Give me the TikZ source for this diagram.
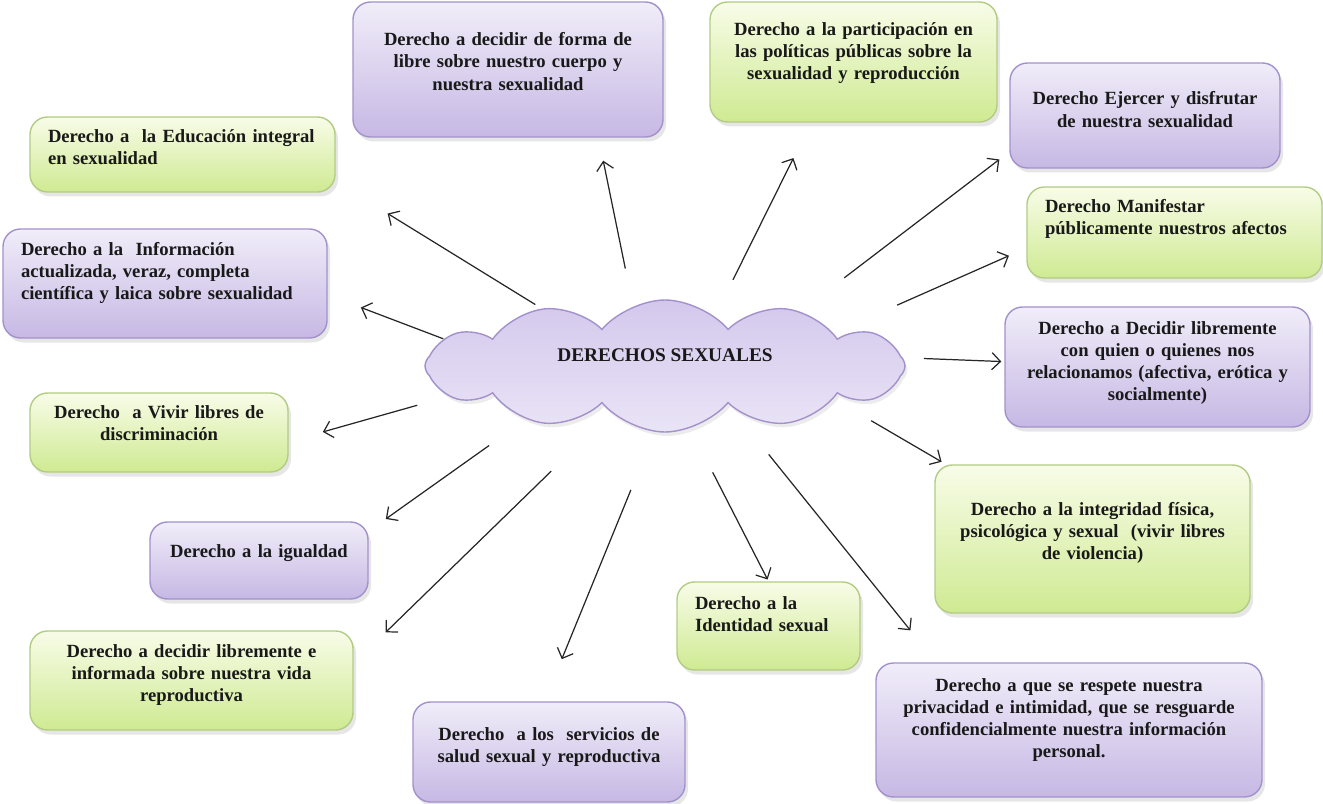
\documentclass[tikz,border=0pt]{standalone}
\usepackage{fontspec}
\setmainfont{Liberation Serif}
\usetikzlibrary{shapes.symbols,shadows,arrows.meta}
\definecolor{lilatop}{HTML}{F1EDF9}
\definecolor{lilabot}{HTML}{C6B8E4}
\definecolor{lilaline}{HTML}{A391CC}
\definecolor{verdetop}{HTML}{F8FCE8}
\definecolor{verdebot}{HTML}{CFEA92}
\definecolor{verdeline}{HTML}{B2CC84}
\definecolor{nubetop}{HTML}{D3C8EC}
\definecolor{nubebot}{HTML}{EAE4F7}
\tikzset{lift/.style={execute at end node={\par\kern#1}}}

\begin{document}
\begin{tikzpicture}
\tikzstyle{caja}=[rectangle, rounded corners=10pt, line width=0.8pt,
inner xsep=0.36cm, inner ysep=0pt, text=black!90,
font=\bfseries\fontsize{10.6}{12.6}\selectfont,
drop shadow={shadow xshift=0.6mm, shadow yshift=-0.9mm, opacity=0.2}]
\tikzstyle{lila}=[caja, draw=lilaline, top color=lilatop, bottom color=lilabot]
\tikzstyle{verde}=[caja, draw=verdeline, top color=verdetop, bottom color=verdebot]
\tikzstyle{flecha}=[-{Straight Barb[length=1.7mm,width=3.4mm]}, line width=0.7pt, black!85]

\useasboundingbox (0,0) rectangle (26.46,-16.08);

\node[cloud, cloud puffs=12, cloud puff arc=100, aspect=3.6,
minimum width=9.6cm, minimum height=2.64cm, inner sep=0pt,
draw=lilaline, line width=0.8pt, top color=nubetop, bottom color=nubebot,
drop shadow={shadow xshift=0.5mm, shadow yshift=-0.8mm, opacity=0.15},
text depth=0.44cm, text=black!90, font=\bfseries\fontsize{11}{13}\selectfont]
at (13.30,-7.32) (nube) {DERECHOS SEXUALES};

\node[verde, align=left, text width=5.38cm, minimum height=1.50cm, lift=0.28cm] at (3.65,-3.09) (edu)
{Derecho a~ la Educación integral\\ en sexualidad};
\node[lila, align=left, text width=5.76cm, minimum height=2.18cm, lift=0.42cm] at (3.30,-5.67) (info)
{Derecho a la~ Información\\ actualizada, veraz, completa\\ científica y laica sobre sexualidad};
\node[verde, align=center, text width=4.44cm, minimum height=1.58cm, lift=0.38cm] at (3.18,-8.65) (vivir)
{Derecho~ a Vivir libres de\\ discriminación};
\node[lila, align=center, text width=3.64cm, minimum height=1.54cm, lift=0.30cm] at (5.18,-11.21) (igual)
{Derecho a la igualdad};
\node[verde, align=center, text width=5.74cm, minimum height=1.98cm, lift=0.22cm] at (3.83,-13.61) (repro)
{Derecho a decidir libremente e\\ informada sobre nuestra vida\\ reproductiva};
\node[lila, align=center, text width=4.72cm, minimum height=2.00cm, lift=0.20cm] at (10.98,-15.04) (serv)
{Derecho~ a los~ servicios de\\ salud sexual y reproductiva};
\node[verde, align=left, text width=2.94cm, minimum height=1.76cm, lift=0.46cm] at (15.37,-12.52) (iden)
{Derecho a la\\ Identidad sexual};
\node[lila, align=center, text width=7.00cm, minimum height=2.68cm, lift=0.40cm] at (21.38,-14.60) (priv)
{Derecho a que se respete nuestra\\ privacidad e intimidad, que se resguarde\\ confidencialmente nuestra información\\ personal.};
\node[verde, align=center, text width=5.58cm, minimum height=2.96cm, lift=0.24cm] at (21.85,-10.78) (integ)
{Derecho a la integridad física,\\ psicológica y sexual~ (vivir libres\\ de violencia)};
\node[lila, align=center, text width=5.38cm, minimum height=2.40cm, lift=0.16cm] at (23.15,-7.34) (rel)
{Derecho a Decidir libremente\\ con quien o quienes nos\\ relacionamos (afectiva, erótica y\\ socialmente)};
\node[verde, align=left, text width=5.18cm, minimum height=1.82cm, lift=0.54cm] at (23.49,-4.65) (mani)
{Derecho Manifestar\\ públicamente nuestros afectos};
\node[lila, align=center, text width=4.68cm, minimum height=2.10cm, lift=0.24cm] at (22.90,-2.31) (ejer)
{Derecho Ejercer y disfrutar\\ de nuestra sexualidad};
\node[verde, align=center, text width=5.02cm, minimum height=2.40cm, lift=0.36cm] at (17.07,-1.24) (part)
{Derecho a la participación en\\ las políticas públicas sobre la\\ sexualidad y reproducción};
\node[lila, align=center, text width=5.48cm, minimum height=2.70cm, lift=0.32cm] at (10.16,-1.39) (dec)
{Derecho a decidir de forma de\\ libre sobre nuestro cuerpo y\\ nuestra sexualidad};

\path[flecha] (nube.155) edge[shorten <=0.15cm, shorten >=1.22cm] (edu.-10) ;
\path[flecha] (nube.173) edge[shorten >=0.71cm] (info.-4) ;
\path[flecha] (nube.118) edge[shorten <=0.76cm, shorten >=0.47cm] (dec.-37) ;
\path[flecha] (nube.45) edge[shorten <=0.81cm, shorten >=0.79cm] (part.-125) ;
\path[flecha] (nube.22) edge[shorten <=1.1cm, shorten >=0.25cm] (ejer.-165) ;
\path[flecha] (nube.11) edge[shorten <=1.39cm, shorten >=0.38cm] (mani.-174) ;
\path[flecha] (nube.2) edge[shorten <=0.42cm, shorten >=0.06cm] (rel.178) ;
\path[flecha] (nube.-11) edge[shorten <=0.87cm, shorten >=0.1cm] (integ.153) ;
\path[flecha] (nube.-31) edge[shorten <=1.30cm, shorten >=0.82cm] (priv.153) ;
\path[flecha] (nube.-68) edge[shorten <=0.98cm, shorten >=0.04cm] (iden.north) ;
\path[flecha] (nube.-99) edge[shorten <=1.25cm, shorten >=0.91cm] (serv.95) ;
\path[flecha] (nube.-139) edge[shorten <=1.67cm, shorten >=0.89cm] (repro.6) ;
\path[flecha] (nube.-159) edge[shorten <=0.9cm, shorten >=0.42cm] (igual.15) ;
\path[flecha] (nube.-172) edge[shorten <=0.65cm, shorten >=0.71cm] (vivir.-4) ;

\end{tikzpicture}
\end{document}
